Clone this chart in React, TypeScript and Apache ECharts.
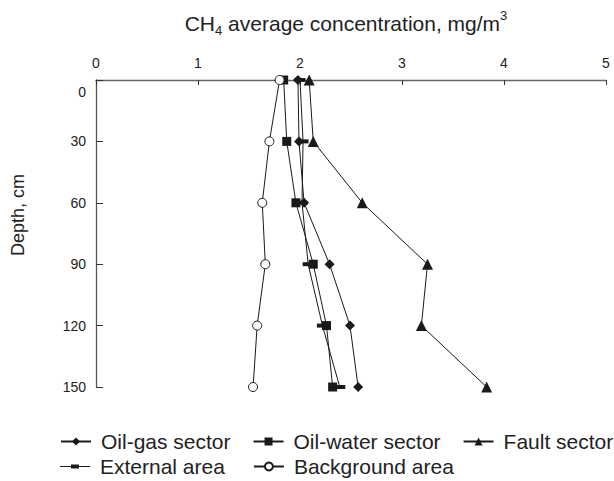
import React, { useEffect, useRef } from "react";
import * as echarts from "echarts";

const depths = [0, 30, 60, 90, 120, 150];
const oilGas = [1.98, 1.99, 2.04, 2.29, 2.49, 2.57];
const oilWater = [1.84, 1.87, 1.96, 2.13, 2.26, 2.32];
const fault = [2.09, 2.13, 2.61, 3.25, 3.19, 3.83];
const external = [2.0, 2.03, 2.02, 2.08, 2.22, 2.39];
const background = [1.8, 1.7, 1.63, 1.66, 1.58, 1.54];
const xTicks = [0, 1, 2, 3, 4, 5];
const yTicks = [0, 30, 60, 90, 120, 150];

const FONT = "Liberation Sans, Arial, sans-serif";
const INK = "#1a1a1a";
const TXT = "#222";
const DASH_ICON =
  "path://M0,0M30,10M0,4.5L11,4.5L11,3L19,3L19,4.5L30,4.5L30,5.5L19,5.5L19,7L11,7L11,5.5L0,5.5Z";

export default function App() {
  const ref = useRef<HTMLDivElement>(null);
  useEffect(() => {
    if (!ref.current) return;
    const chart = echarts.init(ref.current, null, { renderer: "svg" });
    const pts = (vals: number[]) => vals.map((v, i) => [v, depths[i]]);
    const mk = (name: string, vals: number[], symbol: string, size: any, fill = INK) => ({
      name,
      type: "line",
      data: pts(vals),
      symbol,
      symbolSize: size,
      lineStyle: { color: INK, width: 1 },
      itemStyle: { color: fill, borderColor: INK, borderWidth: fill === INK ? 0 : 1 },
      z: 3,
    });
    const legendText = { color: TXT, fontSize: 21, fontFamily: FONT, padding: [0, 0, 0, 5] };
    chart.setOption({
      animation: false,
      textStyle: { fontFamily: FONT },
      title: {
        text: "{a|CH}{s|4}{a| average concentration, mg/m}{p|3}",
        left: 341,
        textAlign: "center",
        top: 4,
        textStyle: {
          fontWeight: "normal",
          rich: {
            a: { fontSize: 21, color: TXT, fontFamily: FONT, lineHeight: 28 },
            s: { fontSize: 13, color: TXT, fontFamily: FONT, verticalAlign: "bottom", lineHeight: 28 },
            p: { fontSize: 13, color: TXT, fontFamily: FONT, verticalAlign: "top", lineHeight: 28 },
          },
        },
      },
      grid: { left: 96, right: 8, top: 80, bottom: 94 },
      xAxis: {
        type: "value",
        position: "top",
        min: xTicks[0],
        max: xTicks[xTicks.length - 1],
        interval: 1,
        splitLine: { show: false },
        axisLine: { show: true, lineStyle: { color: "#666", width: 1.3 } },
        axisTick: { show: true, inside: true, length: 5, lineStyle: { color: "#333" } },
        axisLabel: { color: TXT, fontSize: 14, margin: 10, fontFamily: FONT },
      },
      yAxis: {
        type: "value",
        inverse: true,
        min: yTicks[0],
        max: yTicks[yTicks.length - 1],
        interval: 30,
        splitLine: { show: false },
        axisLine: { show: true, lineStyle: { color: "#555", width: 1.3 } },
        axisTick: { show: true, inside: true, length: 7, lineStyle: { color: "#333" } },
        axisLabel: {
          color: TXT,
          fontSize: 14,
          margin: 10,
          fontFamily: FONT,
          formatter: (v: number) => (v === 0 ? "{z|0}" : String(v)),
          rich: { z: { fontSize: 14, fontFamily: FONT, color: TXT, padding: [24, 0, 0, 0] } },
        },
      },
      graphic: [
        {
          type: "text",
          x: 18,
          y: 215,
          rotation: Math.PI / 2,
          style: {
            text: "Depth, cm",
            align: "center",
            verticalAlign: "middle",
            fontSize: 18,
            fontFamily: FONT,
            fill: TXT,
          },
        },
      ],
      legend: [
        {
          data: ["Oil-gas sector", "Oil-water sector", "Fault sector"],
          left: 55,
          top: 426,
          width: 559,
          itemGap: 22,
          itemWidth: 30,
          itemHeight: 10,
          textStyle: legendText,
        },
        {
          data: [{ name: "External area", icon: DASH_ICON }, { name: "Background area" }],
          left: 55,
          top: 451,
          width: 559,
          itemGap: 28,
          itemWidth: 30,
          itemHeight: 10,
          textStyle: legendText,
        },
      ],
      series: [
        mk("Oil-gas sector", oilGas, "diamond", 10),
        mk("Oil-water sector", oilWater, "rect", 9),
        mk("Fault sector", fault, "triangle", 11),
        mk("External area", external, "rect", [11, 4]),
        mk("Background area", background, "circle", 9, "#fff"),
      ],
    });
    return () => chart.dispose();
  }, []);
  return (
    <div
      ref={ref}
      style={{ position: "absolute", left: 0, top: 0, width: 614, height: 481 }}
    />
  );
}
